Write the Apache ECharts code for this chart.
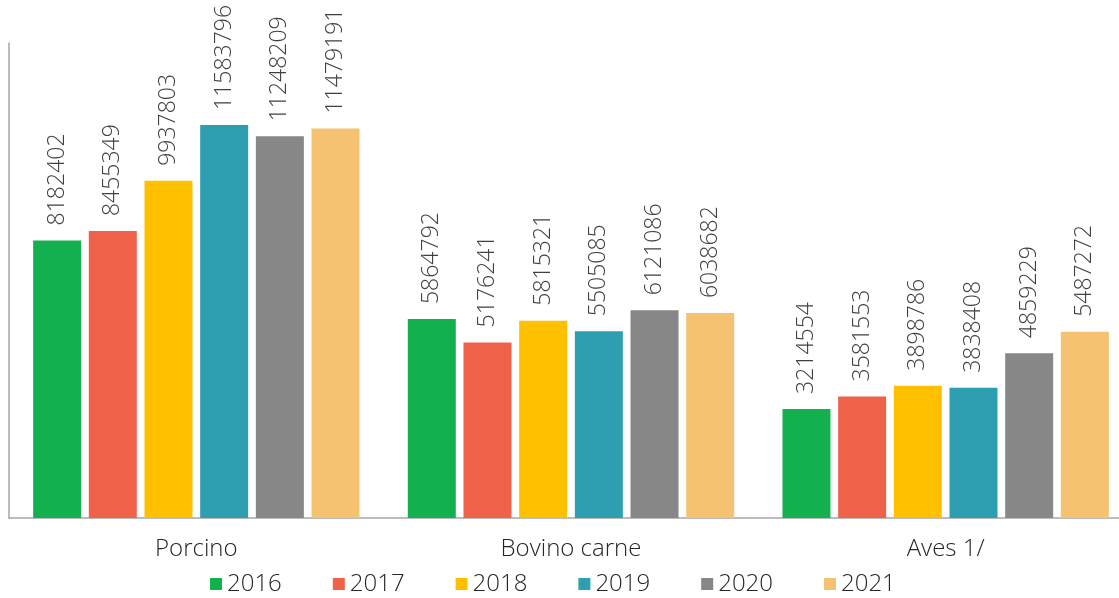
<!DOCTYPE html>
<html><head><meta charset="utf-8">
<script src="https://cdn.jsdelivr.net/npm/echarts@6/dist/echarts.min.js"></script>
<style>html,body{margin:0;padding:0;background:#fff}#c{width:1119px;height:598px}</style>
</head><body><div id="c"></div>
<script>
const categories = ['Porcino', 'Bovino carne', 'Aves 1/'];
const years = ['2016', '2017', '2018', '2019', '2020', '2021'];
const v2016 = [8182402, 5864792, 3214554];
const v2017 = [8455349, 5176241, 3581553];
const v2018 = [9937803, 5815321, 3898786];
const v2019 = [11583796, 5505085, 3838408];
const v2020 = [11248209, 6121086, 4859229];
const v2021 = [11479191, 6038682, 5487272];
const seriesValues = [v2016, v2017, v2018, v2019, v2020, v2021];
const colors = ['#13b04f', '#f0614a', '#ffc000', '#2e9fb0', '#878787', '#f5c272'];
const FONT = '"Open Sans", sans-serif';
const chart = echarts.init(document.getElementById('c'));
chart.setOption({
  animation: false,
  grid: {left: 9, width: 1124, top: 43, height: 475, containLabel: false, outerBoundsMode: 'none'},
  legend: {
    top: 567, left: 205, itemWidth: 12, itemHeight: 12, itemGap: 51,
    icon: 'rect',
    textStyle: {fontFamily: FONT, fontSize: 24, color: '#262626', fontWeight: 300},
    data: years
  },
  xAxis: {
    type: 'category', data: categories,
    axisLine: {lineStyle: {color: '#a6a6a6', width: 1.5}},
    axisTick: {show: false},
    axisLabel: {fontFamily: FONT, fontSize: 24, color: '#262626', margin: 19, fontWeight: 300}
  },
  yAxis: {
    type: 'value', min: 0, max: 14000000,
    axisLine: {show: true, lineStyle: {color: '#a6a6a6', width: 1.5}},
    axisTick: {show: false}, axisLabel: {show: false}, splitLine: {show: false}
  },
  series: years.map((y, i) => ({
    name: y, type: 'bar', data: seriesValues[i],
    barWidth: 48, barGap: '16%',
    itemStyle: {color: colors[i]},
    label: {
      show: true, position: 'top', rotate: 90, align: 'left', verticalAlign: 'middle',
      distance: 15, fontFamily: FONT, fontSize: 23, color: '#404040', fontWeight: 300
    }
  }))
});
</script></body></html>
